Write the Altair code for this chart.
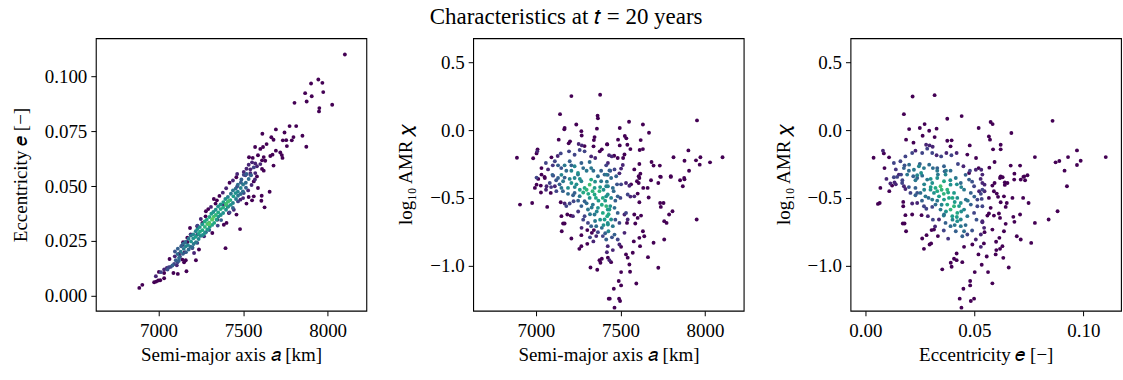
import altair as alt
import pandas as pd

# ---------------- data ----------------
# Panel 1: (semi-major axis a [km], eccentricity e, colour density level 0..1)
P1 = [
    (8102, 0.1099, 0), (7902, 0.0967, 0), (7945, 0.0985, 0), (7969, 0.0970, 0),
    (7867, 0.0923, 0), (7906, 0.0909, 0), (7974, 0.0928, 0), (7876, 0.0885, 0),
    (7804, 0.0879, 0), (7951, 0.0855, 0), (7949, 0.0840, 0), (8027, 0.0870, 0),
    (7775, 0.0773, 0), (7814, 0.0773, 0), (7694, 0.0758, 0), (7745, 0.0744, 0),
    (7614, 0.0738, 0), (7667, 0.0722, 0), (7680, 0.0711, 0), (7735, 0.0708, 0),
    (7755, 0.0709, 0), (7798, 0.0723, 0), (7788, 0.0708, 0), (7851, 0.0729, 0),
    (7874, 0.0679, 0), (7759, 0.0682, 0), (7639, 0.0691, 0), (7618, 0.0678, 0),
    (7602, 0.0669, 0), (7571, 0.0678, 0), (7694, 0.0661, 0), (7720, 0.0653, 0),
    (7729, 0.0641, 0), (7733, 0.0628, 0), (7661, 0.0637, 0), (7674, 0.0643, 0),
    (7622, 0.0632, 0), (7631, 0.0615, 0), (7588, 0.0640, 0), (7535, 0.0631, 0),
    (7557, 0.0628, 0), (7612, 0.0617, 0), (7602, 0.0600, 0.1), (7572, 0.0603, 0.1),
    (7553, 0.0608, 0.1), (7680, 0.0593, 0), (7533, 0.0597, 0.1), (7520, 0.0579, 0.1),
    (7543, 0.0576, 0.1), (7563, 0.0585, 0.2), (7582, 0.0590, 0.1), (7612, 0.0578, 0),
    (7465, 0.0555, 0.1), (7504, 0.0564, 0.1), (7514, 0.0549, 0.2), (7543, 0.0552, 0.1),
    (7572, 0.0559, 0.1), (7622, 0.0570, 0),
    (6886, 0.0036, 0), (6904, 0.0050, 0), (6974, 0.0062, 0), (6986, 0.0065, 0),
    (6998, 0.0070, 0), (7010, 0.0071, 0), (7033, 0.0080, 0), (7002, 0.0109, 0),
    (7033, 0.0120, 0.1), (7049, 0.0127, 0.1), (7061, 0.0130, 0.2), (7072, 0.0132, 0.2),
    (7088, 0.0104, 0), (7114, 0.0100, 0), (7108, 0.0139, 0.1), (7092, 0.0145, 0.2),
    (7112, 0.0153, 0.2), (7065, 0.0168, 0), (7096, 0.0180, 0.1), (7121, 0.0191, 0),
    (7155, 0.0198, 0), (7141, 0.0165, 0), (7161, 0.0162, 0), (7151, 0.0153, 0),
    (7165, 0.0112, 0), (7221, 0.0162, 0), (7145, 0.0244, 0), (7170, 0.0245, 0),
    (7200, 0.0218, 0.1), (7229, 0.0241, 0.2), (7239, 0.0211, 0), (7396, 0.0217, 0),
    (7186, 0.0309, 0), (7229, 0.0317, 0), (7259, 0.0332, 0), (7278, 0.0362, 0),
    (7294, 0.0395, 0), (7327, 0.0441, 0), (7337, 0.0420, 0), (7386, 0.0415, 0.1),
    (7410, 0.0407, 0), (7416, 0.0377, 0), (7386, 0.0324, 0), (7402, 0.0332, 0),
    (7482, 0.0304, 0), (7461, 0.0370, 0), (7520, 0.0420, 0), (7533, 0.0450, 0),
    (7563, 0.0453, 0), (7553, 0.0435, 0), (7588, 0.0491, 0), (7610, 0.0456, 0),
    (7608, 0.0433, 0), (7627, 0.0403, 0), (7657, 0.0474, 0), (7347, 0.0347, 0),
    (7445, 0.0392, 0.1), (7484, 0.0438, 0.1), (7504, 0.0468, 0.2), (7465, 0.0498, 0.2),
    (7563, 0.0521, 0), (7582, 0.0544, 0), (7504, 0.0551, 0.2), (7543, 0.0559, 0.1),
    (7229, 0.0279, 0.1), (7269, 0.0271, 0.1), (7318, 0.0286, 0), (7210, 0.0195, 0.1),
    (7033, 0.0104, 0),
    (7053, 0.0120, 0.25), (7082, 0.0138, 0.3), (7102, 0.0162, 0.3), (7121, 0.0173, 0.35),
    (7014, 0.0108, 0.2), (6984, 0.0089, 0.1),
    (7280, 0.0385, 0), (7310, 0.0405, 0.1), (7345, 0.0435, 0), (7360, 0.0455, 0),
    (7380, 0.0470, 0.1), (7400, 0.0490, 0.1), (7420, 0.0515, 0), (7440, 0.0525, 0.1),
    (7460, 0.0540, 0), (7250, 0.0350, 0.1), (7230, 0.0320, 0.2), (7190, 0.0280, 0.1),
    (7170, 0.0265, 0), (7140, 0.0230, 0.1), (7350, 0.0320, 0.2), (7370, 0.0345, 0.3),
    (7420, 0.0380, 0.2), (7440, 0.0400, 0.3), (7470, 0.0430, 0.2), (7500, 0.0445, 0.1),
    (7530, 0.0480, 0.1), (7550, 0.0505, 0.1), (7570, 0.0530, 0.1), (7490, 0.0530, 0.3),
    (7520, 0.0555, 0.3), (7280, 0.0290, 0.3), (7300, 0.0300, 0.3), (7200, 0.0220, 0.3),
    (7120, 0.0160, 0.3),
    # dense diagonal band
    (7112, 0.0190, 0.35), (7131, 0.0201, 0.4), (7149, 0.0214, 0.4), (7161, 0.0226, 0.45),
    (7174, 0.0231, 0.45), (7192, 0.0248, 0.5), (7206, 0.0262, 0.5), (7220, 0.0269, 0.55),
    (7235, 0.0282, 0.55), (7245, 0.0292, 0.6), (7259, 0.0299, 0.6), (7274, 0.0314, 0.65),
    (7288, 0.0327, 0.7), (7300, 0.0333, 0.7), (7316, 0.0347, 0.72), (7327, 0.0361, 0.7),
    (7339, 0.0368, 0.65), (7353, 0.0380, 0.6), (7367, 0.0395, 0.6), (7382, 0.0402, 0.62),
    (7398, 0.0415, 0.68), (7410, 0.0429, 0.65), (7425, 0.0436, 0.6), (7443, 0.0453, 0.55),
    (7455, 0.0468, 0.5), (7469, 0.0474, 0.45), (7486, 0.0491, 0.45), (7500, 0.0507, 0.4),
    (7516, 0.0515, 0.35), (7533, 0.0532, 0.35), (7547, 0.0549, 0.3),
    (7127, 0.0178, 0.25), (7144, 0.0191, 0.3), (7162, 0.0199, 0.3), (7178, 0.0211, 0.35),
    (7189, 0.0224, 0.35), (7207, 0.0236, 0.4), (7221, 0.0244, 0.4), (7237, 0.0259, 0.45),
    (7248, 0.0273, 0.45), (7262, 0.0277, 0.5), (7274, 0.0286, 0.5), (7289, 0.0302, 0.55),
    (7303, 0.0315, 0.55), (7317, 0.0323, 0.6), (7329, 0.0332, 0.6), (7344, 0.0347, 0.55),
    (7354, 0.0361, 0.5), (7368, 0.0368, 0.5), (7382, 0.0377, 0.5), (7399, 0.0392, 0.5),
    (7411, 0.0406, 0.55), (7427, 0.0414, 0.5), (7440, 0.0423, 0.45), (7458, 0.0441, 0.4),
    (7470, 0.0456, 0.4), (7486, 0.0464, 0.35), (7499, 0.0476, 0.35), (7517, 0.0492, 0.3),
    (7097, 0.0202, 0.25), (7114, 0.0215, 0.3), (7134, 0.0226, 0.3), (7146, 0.0238, 0.35),
    (7159, 0.0245, 0.35), (7177, 0.0260, 0.4), (7191, 0.0274, 0.4), (7205, 0.0280, 0.45),
    (7220, 0.0294, 0.45), (7230, 0.0304, 0.5), (7244, 0.0313, 0.5), (7259, 0.0326, 0.55),
    (7273, 0.0339, 0.6), (7285, 0.0347, 0.6), (7301, 0.0359, 0.6), (7312, 0.0374, 0.55),
    (7324, 0.0382, 0.5), (7338, 0.0392, 0.5), (7352, 0.0407, 0.5), (7367, 0.0416, 0.5),
    (7383, 0.0427, 0.55), (7395, 0.0441, 0.5), (7410, 0.0450, 0.45), (7428, 0.0465, 0.4),
    (7440, 0.0480, 0.4), (7456, 0.0488, 0.35), (7469, 0.0506, 0.35), (7487, 0.0516, 0.3),
    (7300, 0.0327, 0.75), (7320, 0.0350, 0.75), (7400, 0.0420, 0.7), (7415, 0.0432, 0.7),
]

# Panel 2: (semi-major axis a [km], log10 AMR chi, colour density level)
P2 = [
    (7210, 0.250, 0), (7380, 0.260, 0), (7143, 0.117, 0), (7365, 0.105, 0),
    (7367, 0.086, 0), (7239, 0.041, 0), (7170, 0.015, 0), (7168, 0.005, 0),
    (7361, 0.010, 0), (7269, -0.008, 0), (7271, -0.040, 0), (7347, -0.052, 0),
    (7343, -0.074, 0), (7135, -0.071, 0), (7202, -0.083, 0), (7194, -0.098, 0),
    (7253, -0.103, 0.1), (7272, -0.113, 0.1), (7288, -0.118, 0), (7341, -0.120, 0),
    (7421, -0.105, 0), (7008, -0.157, 0.1), (7010, -0.142, 0), (7004, -0.172, 0),
    (6888, -0.204, 0), (6984, -0.208, 0), (7092, -0.201, 0), (7147, -0.172, 0.2),
    (7129, -0.191, 0.1), (7196, -0.157, 0.2), (7229, -0.182, 0.2), (7259, -0.147, 0.2),
    (7288, -0.157, 0.2), (7378, -0.157, 0), (7390, -0.142, 0), (7327, -0.194, 0.1),
    (7351, -0.206, 0.1), (7059, -0.243, 0.2), (7112, -0.230, 0.2), (7131, -0.260, 0.3),
    (7033, -0.280, 0), (7170, -0.260, 0.4), (7200, -0.230, 0.3), (7229, -0.267, 0.45),
    (7269, -0.243, 0.3), (7318, -0.235, 0.35), (7327, -0.280, 0.4), (7210, -0.300, 0.45),
    (7249, -0.316, 0.5), (7151, -0.330, 0.45), (7098, -0.330, 0.3), (7051, -0.345, 0),
    (7386, -0.300, 0.3), (7416, -0.260, 0.2), (7425, -0.330, 0.3), (7072, -0.290, 0.1),
    (7004, -0.350, 0.2),
    (7953, 0.071, 0), (7551, 0.061, 0), (7633, 0.041, 0), (7496, 0.015, 0),
    (7669, -0.020, 0), (7526, -0.044, 0), (7535, -0.061, 0), (7486, -0.071, 0),
    (7620, -0.074, 0), (7422, -0.106, 0), (7496, -0.113, 0), (7541, -0.108, 0),
    (7559, -0.140, 0), (7614, -0.147, 0), (7633, -0.140, 0), (7902, -0.150, 0),
    (7433, -0.186, 0.1), (7449, -0.194, 0.1), (7463, -0.189, 0), (7484, -0.206, 0),
    (7516, -0.206, 0), (7524, -0.180, 0), (7814, -0.200, 0), (7973, -0.200, 0),
    (7947, -0.223, 0), (7879, -0.226, 0), (8104, -0.200, 0), (7684, -0.235, 0),
    (7696, -0.262, 0), (7733, -0.262, 0), (7612, -0.250, 0), (8030, -0.238, 0),
    (7969, -0.255, 0), (7426, -0.243, 0.1), (7514, -0.257, 0.1), (7504, -0.284, 0.1),
    (7465, -0.290, 0.2), (7582, -0.290, 0), (7435, -0.297, 0.3), (7494, -0.319, 0.1),
    (7618, -0.321, 0), (7608, -0.340, 0), (7906, -0.300, 0), (7735, -0.343, 0),
    (7798, -0.340, 0), (7877, -0.353, 0),
    (7612, -0.353, 0), (7598, -0.377, 0), (7681, -0.370, 0), (7739, -0.345, 0),
    (7798, -0.345, 0), (7853, -0.370, 0), (7879, -0.363, 0), (7869, -0.414, 0),
    (7724, -0.390, 0), (7661, -0.426, 0), (7635, -0.426, 0), (7608, -0.390, 0),
    (7563, -0.400, 0), (7533, -0.390, 0.1), (7553, -0.410, 0.1), (7504, -0.400, 0.2),
    (7602, -0.468, 0), (7582, -0.488, 0.1), (7559, -0.490, 0.1), (7543, -0.475, 0.2),
    (7667, -0.497, 0), (7612, -0.532, 0), (7735, -0.537, 0), (7755, -0.537, 0),
    (7739, -0.566, 0), (7808, -0.598, 0), (7788, -0.622, 0), (7533, -0.610, 0.2),
    (7524, -0.622, 0.1), (7582, -0.622, 0), (7622, -0.630, 0), (7602, -0.647, 0),
    (7543, -0.659, 0.1), (7539, -0.684, 0), (7588, -0.688, 0), (7759, -0.671, 0),
    (7773, -0.684, 0), (7951, -0.659, 0), (7633, -0.745, 0), (7641, -0.782, 0),
    (7612, -0.794, 0), (7524, -0.757, 0.1), (7696, -0.830, 0), (7759, -0.806, 0),
    (7579, -0.820, 0), (7484, -0.806, 0.2), (7494, -0.843, 0.1), (7504, -0.860, 0),
    (7616, -0.855, 0), (7455, -0.884, 0.1), (7426, -0.940, 0), (7435, -0.958, 0.1),
    (7445, -0.973, 0), (7533, -0.916, 0), (7543, -0.940, 0), (7573, -0.904, 0),
    (7663, -0.936, 0), (7553, -0.990, 0), (7724, -1.014, 0), (7504, -1.046, 0),
    (7557, -1.044, 0), (7490, -1.112, 0), (7504, -1.144, 0), (7594, -1.130, 0),
    (7461, -1.169, 0), (7437, -1.242, 0), (7492, -1.242, 0), (7498, -1.259, 0),
    (7465, -1.308, 0),
    (7416, -0.328, 0.4), (7445, -0.353, 0.35), (7475, -0.340, 0.3), (7426, -0.414, 0.45),
    (7455, -0.426, 0.35), (7416, -0.488, 0.5), (7445, -0.500, 0.45), (7484, -0.488, 0.3),
    (7416, -0.560, 0.65), (7435, -0.585, 0.55), (7465, -0.573, 0.35), (7422, -0.634, 0.6),
    (7445, -0.659, 0.5), (7426, -0.696, 0.5), (7455, -0.708, 0.4), (7429, -0.745, 0.45),
    (7465, -0.770, 0.3), (7484, -0.610, 0.3), (7494, -0.684, 0.2),
    (6906, -0.549, 0), (6978, -0.537, 0), (7067, -0.566, 0), (7147, -0.532, 0),
    (7170, -0.541, 0.1), (7200, -0.541, 0.2), (7223, -0.524, 0.2), (7151, -0.634, 0),
    (7186, -0.622, 0), (7206, -0.630, 0), (7161, -0.688, 0), (7170, -0.688, 0),
    (7153, -0.745, 0), (7210, -0.799, 0), (7269, -0.774, 0), (7304, -0.737, 0),
    (7331, -0.757, 0), (7343, -0.737, 0), (7269, -0.855, 0), (7257, -0.875, 0),
    (7304, -0.838, 0), (7367, -0.752, 0.2), (7357, -0.781, 0.1), (7376, -0.958, 0),
    (7390, -0.948, 0), (7382, -0.977, 0), (7323, -1.012, 0), (7363, -1.029, 0),
    (7431, -1.242, 0), (7425, -0.855, 0.1), (7396, -0.781, 0.2), (7416, -0.806, 0.3),
    (7327, -0.708, 0.3), (7308, -0.684, 0.2), (7357, -0.708, 0.35),
    (7014, -0.360, 0), (7053, -0.353, 0), (6994, -0.426, 0), (7004, -0.402, 0),
    (7029, -0.409, 0), (7063, -0.414, 0.1), (7112, -0.414, 0.1), (7082, -0.390, 0.2),
    (7102, -0.336, 0.2), (7131, -0.353, 0.3), (7161, -0.377, 0.4), (7151, -0.426, 0.4),
    (7190, -0.426, 0.5), (7210, -0.390, 0.5), (7229, -0.353, 0.45), (7249, -0.328, 0.4),
    (7269, -0.377, 0.45), (7288, -0.426, 0.6), (7318, -0.402, 0.7), (7327, -0.365, 0.6),
    (7347, -0.426, 0.55), (7367, -0.340, 0.35), (7386, -0.377, 0.4), (7406, -0.328, 0.3),
    (7416, -0.414, 0.45), (7229, -0.463, 0.3), (7259, -0.487, 0.4), (7288, -0.524, 0.3),
    (7318, -0.500, 0.5), (7347, -0.475, 0.6), (7376, -0.450, 0.65), (7396, -0.500, 0.6),
    (7425, -0.475, 0.5), (7269, -0.560, 0.3), (7308, -0.585, 0.4), (7337, -0.549, 0.4),
    (7367, -0.573, 0.5), (7396, -0.610, 0.6), (7425, -0.585, 0.55), (7347, -0.622, 0.4),
    (7406, -0.659, 0.55), (7425, -0.684, 0.5), (7219, -0.634, 0.1), (7288, -0.634, 0.2),
    (7180, -0.560, 0.2), (7033, -0.328, 0), (7121, -0.450, 0.2), (7088, -0.463, 0),
    (7180, -0.300, 0.35), (7200, -0.360, 0.45), (7240, -0.400, 0.5), (7260, -0.440, 0.55),
    (7280, -0.460, 0.6), (7300, -0.440, 0.65), (7310, -0.470, 0.6), (7335, -0.450, 0.65),
    (7355, -0.500, 0.6), (7370, -0.520, 0.55), (7390, -0.550, 0.6), (7410, -0.520, 0.55),
    (7430, -0.620, 0.6), (7440, -0.560, 0.5), (7400, -0.700, 0.5), (7380, -0.660, 0.5),
    (7360, -0.600, 0.45), (7330, -0.570, 0.4), (7300, -0.540, 0.35), (7250, -0.520, 0.3),
    (7220, -0.480, 0.3), (7190, -0.470, 0.35), (7160, -0.450, 0.3), (7140, -0.400, 0.3),
    (7120, -0.370, 0.25), (7090, -0.420, 0.15), (7060, -0.440, 0.1), (7030, -0.460, 0),
    (7250, -0.600, 0.15), (7280, -0.660, 0.2), (7320, -0.790, 0.2), (7340, -0.820, 0.1),
    (7390, -0.720, 0.35), (7410, -0.760, 0.3), (7450, -0.790, 0.25), (7470, -0.660, 0.25),
    (7460, -0.450, 0.35), (7480, -0.400, 0.25), (7500, -0.500, 0.2), (7470, -0.520, 0.3),
    (7300, -0.300, 0.4), (7340, -0.300, 0.35), (7280, -0.280, 0.35), (7350, -0.380, 0.5),
    (7400, -0.440, 0.5), (7380, -0.420, 0.55), (7230, -0.420, 0.45), (7260, -0.360, 0.5),
    (7170, -0.350, 0.3), (7210, -0.260, 0.3), (7150, -0.280, 0.25), (7100, -0.260, 0.15),
    (7420, -0.380, 0.4), (7440, -0.300, 0.25), (7320, -0.620, 0.4), (7350, -0.670, 0.4),
    (7270, -0.720, 0.1), (7420, -0.900, 0.1),
]

# Panel 3: (eccentricity e, log10 AMR chi, colour density level)
P3 = [
    (0.0217, 0.247, 0), (0.0318, 0.257, 0), (0.0177, 0.117, 0), (0.0376, 0.083, 0),
    (0.0442, 0.103, 0), (0.0520, 0.015, 0), (0.0201, 0.007, 0), (0.0250, 0.015, 0),
    (0.0272, 0.044, 0), (0.0293, -0.005, 0), (0.0327, 0.010, 0), (0.0263, -0.042, 0),
    (0.0318, -0.052, 0), (0.0376, -0.079, 0), (0.0396, -0.076, 0), (0.0187, -0.071, 0),
    (0.0221, -0.093, 0), (0.0279, -0.108, 0.1), (0.0295, -0.113, 0.1), (0.0309, -0.123, 0.1),
    (0.0391, -0.120, 0), (0.0479, -0.113, 0), (0.0081, -0.152, 0.1), (0.0085, -0.172, 0),
    (0.0038, -0.204, 0), (0.0109, -0.201, 0), (0.0131, -0.243, 0.2), (0.0161, -0.230, 0.2),
    (0.0184, -0.194, 0.2), (0.0215, -0.169, 0.2), (0.0230, -0.152, 0.1), (0.0261, -0.169, 0.2),
    (0.0284, -0.137, 0.2), (0.0307, -0.169, 0.2), (0.0327, -0.186, 0.1), (0.0348, -0.194, 0.2),
    (0.0372, -0.169, 0.1), (0.0395, -0.186, 0.2), (0.0419, -0.169, 0.1), (0.0468, -0.181, 0),
    (0.0508, -0.206, 0), (0.0425, -0.250, 0.2), (0.0450, -0.267, 0.1), (0.0520, -0.280, 0),
    (0.0088, -0.280, 0), (0.0177, -0.280, 0.3), (0.0201, -0.255, 0.35), (0.0223, -0.292, 0.4),
    (0.0246, -0.267, 0.45), (0.0269, -0.280, 0.4), (0.0293, -0.255, 0.35), (0.0330, -0.280, 0.3),
    (0.0361, -0.267, 0.3), (0.0391, -0.299, 0.35), (0.0154, -0.328, 0.1), (0.0192, -0.328, 0.4),
    (0.0238, -0.333, 0.45), (0.0256, -0.316, 0.5), (0.0333, -0.328, 0.4), (0.0364, -0.304, 0.3),
    (0.0476, -0.316, 0), (0.0507, -0.292, 0.1), (0.0537, -0.328, 0.1), (0.0131, -0.348, 0.2),
    (0.0859, 0.068, 0), (0.0575, 0.059, 0), (0.0584, 0.044, 0), (0.0670, -0.022, 0),
    (0.0567, -0.047, 0), (0.0572, -0.071, 0), (0.0621, -0.108, 0), (0.0621, -0.142, 0),
    (0.0586, -0.142, 0), (0.0593, -0.235, 0), (0.0569, -0.277, 0), (0.0778, -0.199, 0),
    (0.0873, -0.238, 0), (0.0890, -0.228, 0), (0.0930, -0.199, 0), (0.0971, -0.150, 0),
    (0.0988, -0.226, 0), (0.0971, -0.257, 0), (0.0914, -0.299, 0), (0.1103, -0.199, 0),
    (0.0667, -0.262, 0), (0.0710, -0.262, 0), (0.0684, -0.321, 0), (0.0729, -0.341, 0),
    (0.0744, -0.333, 0), (0.0621, -0.341, 0), (0.0630, -0.348, 0), (0.0532, -0.292, 0.1),
    (0.0618, -0.353, 0), (0.0713, -0.365, 0), (0.0725, -0.345, 0), (0.0733, -0.370, 0),
    (0.0683, -0.365, 0), (0.0925, -0.414, 0), (0.0529, -0.360, 0.1), (0.0547, -0.402, 0.1),
    (0.0583, -0.409, 0), (0.0593, -0.390, 0), (0.0640, -0.385, 0), (0.0652, -0.390, 0),
    (0.0640, -0.404, 0), (0.0537, -0.439, 0.2), (0.0547, -0.451, 0.1), (0.0590, -0.451, 0),
    (0.0603, -0.468, 0), (0.0609, -0.492, 0), (0.0567, -0.500, 0), (0.0636, -0.488, 0),
    (0.0675, -0.500, 0), (0.0724, -0.500, 0), (0.0621, -0.532, 0), (0.0649, -0.537, 0),
    (0.0644, -0.566, 0), (0.0749, -0.537, 0), (0.0575, -0.573, 0), (0.0534, -0.507, 0.2),
    (0.0537, -0.561, 0.2), (0.0882, -0.598, 0), (0.0560, -0.630, 0), (0.0567, -0.615, 0),
    (0.0590, -0.630, 0), (0.0613, -0.615, 0), (0.0618, -0.647, 0), (0.0710, -0.622, 0),
    (0.0679, -0.639, 0), (0.0684, -0.676, 0), (0.0644, -0.691, 0), (0.0778, -0.684, 0),
    (0.0841, -0.659, 0), (0.0537, -0.679, 0.1), (0.0547, -0.752, 0), (0.0583, -0.733, 0),
    (0.0636, -0.745, 0), (0.0615, -0.794, 0), (0.0695, -0.782, 0), (0.0713, -0.806, 0),
    (0.0761, -0.831, 0), (0.0544, -0.835, 0), (0.0600, -0.823, 0), (0.0629, -0.855, 0),
    (0.0618, -0.875, 0), (0.0601, -0.884, 0), (0.0598, -0.916, 0), (0.0557, -0.931, 0),
    (0.0633, -0.941, 0), (0.0534, -0.992, 0), (0.0658, -1.012, 0), (0.0563, -1.046, 0),
    (0.0583, -1.129, 0),
    (0.0058, -0.544, 0), (0.0066, -0.537, 0), (0.0069, -0.426, 0), (0.0097, -0.360, 0.1),
    (0.0115, -0.394, 0.1), (0.0123, -0.409, 0), (0.0134, -0.385, 0.1), (0.0169, -0.390, 0.2),
    (0.0177, -0.414, 0.1), (0.0184, -0.434, 0.1), (0.0146, -0.345, 0.2), (0.0164, -0.328, 0.2),
    (0.0174, -0.529, 0), (0.0174, -0.561, 0), (0.0215, -0.541, 0.1), (0.0238, -0.537, 0.1),
    (0.0184, -0.627, 0), (0.0215, -0.622, 0), (0.0172, -0.688, 0), (0.0180, -0.688, 0),
    (0.0187, -0.745, 0), (0.0258, -0.627, 0), (0.0287, -0.634, 0.1), (0.0307, -0.566, 0.2),
    (0.0261, -0.799, 0), (0.0281, -0.774, 0), (0.0304, -0.737, 0), (0.0315, -0.733, 0),
    (0.0333, -0.781, 0), (0.0295, -0.843, 0), (0.0302, -0.835, 0), (0.0269, -0.875, 0),
    (0.0338, -0.659, 0.1), (0.0353, -1.026, 0), (0.0392, -0.977, 0), (0.0396, -1.007, 0),
    (0.0407, -0.948, 0), (0.0419, -0.958, 0), (0.0419, -0.909, 0), (0.0445, -0.973, 0),
    (0.0502, -1.046, 0), (0.0481, -1.112, 0), (0.0481, -1.144, 0), (0.0450, -1.169, 0),
    (0.0499, -1.242, 0), (0.0484, -1.259, 0), (0.0433, -1.242, 0), (0.0441, -1.308, 0),
    (0.0519, -0.916, 0), (0.0453, -0.860, 0), (0.0491, -0.843, 0), (0.0530, -0.769, 0.1),
    (0.0468, -0.769, 0.2), (0.0445, -0.782, 0.3), (0.0507, -0.806, 0.1), (0.0537, -0.671, 0.1),
    (0.0514, -0.561, 0.2), (0.0499, -0.610, 0.2), (0.0522, -0.451, 0.1), (0.0484, -0.463, 0.3),
    (0.0537, -0.390, 0.1), (0.0499, -0.414, 0.2), (0.0476, -0.365, 0.3), (0.0514, -0.512, 0.2),
    (0.0545, -0.720, 0.1),
    (0.0238, -0.353, 0.3), (0.0261, -0.336, 0.35), (0.0284, -0.365, 0.4), (0.0307, -0.390, 0.5),
    (0.0330, -0.353, 0.5), (0.0345, -0.414, 0.7), (0.0361, -0.377, 0.6), (0.0376, -0.439, 0.65),
    (0.0391, -0.402, 0.5), (0.0407, -0.463, 0.55), (0.0422, -0.500, 0.5), (0.0438, -0.537, 0.5),
    (0.0453, -0.586, 0.45), (0.0468, -0.634, 0.4), (0.0438, -0.659, 0.45), (0.0391, -0.586, 0.65),
    (0.0376, -0.549, 0.6), (0.0407, -0.561, 0.65), (0.0422, -0.610, 0.6), (0.0399, -0.634, 0.55),
    (0.0438, -0.708, 0.4), (0.0453, -0.745, 0.35), (0.0391, -0.708, 0.35), (0.0368, -0.684, 0.3),
    (0.0345, -0.586, 0.4), (0.0322, -0.549, 0.35), (0.0307, -0.512, 0.4), (0.0276, -0.488, 0.4),
    (0.0253, -0.463, 0.35), (0.0230, -0.426, 0.3), (0.0207, -0.463, 0.2), (0.0315, -0.463, 0.5),
    (0.0338, -0.488, 0.55), (0.0361, -0.512, 0.55), (0.0384, -0.500, 0.6), (0.0322, -0.426, 0.6),
    (0.0299, -0.439, 0.5), (0.0368, -0.328, 0.45), (0.0415, -0.353, 0.4), (0.0438, -0.390, 0.35),
    (0.0453, -0.439, 0.4), (0.0461, -0.512, 0.35), (0.0484, -0.549, 0.3), (0.0422, -0.671, 0.5),
    (0.0415, -0.745, 0.3), (0.0361, -0.622, 0.35), (0.0269, -0.561, 0.2), (0.0238, -0.463, 0.25),
    (0.0200, -0.300, 0.35), (0.0230, -0.370, 0.4), (0.0270, -0.400, 0.45), (0.0300, -0.420, 0.55),
    (0.0330, -0.450, 0.6), (0.0350, -0.440, 0.65), (0.0360, -0.470, 0.65), (0.0380, -0.460, 0.6),
    (0.0400, -0.500, 0.6), (0.0410, -0.530, 0.55), (0.0430, -0.560, 0.55), (0.0440, -0.600, 0.5),
    (0.0420, -0.640, 0.55), (0.0400, -0.660, 0.45), (0.0370, -0.600, 0.5), (0.0350, -0.550, 0.45),
    (0.0330, -0.520, 0.4), (0.0290, -0.500, 0.35), (0.0260, -0.520, 0.3), (0.0230, -0.480, 0.3),
    (0.0200, -0.420, 0.25), (0.0170, -0.370, 0.2), (0.0140, -0.400, 0.1), (0.0110, -0.450, 0),
    (0.0280, -0.580, 0.2), (0.0310, -0.660, 0.2), (0.0360, -0.740, 0.2), (0.0380, -0.800, 0.15),
    (0.0460, -0.700, 0.35), (0.0490, -0.740, 0.25), (0.0510, -0.660, 0.25), (0.0470, -0.520, 0.4),
    (0.0500, -0.490, 0.3), (0.0530, -0.470, 0.2), (0.0490, -0.380, 0.25), (0.0460, -0.330, 0.3),
    (0.0330, -0.300, 0.4), (0.0370, -0.300, 0.4), (0.0310, -0.280, 0.35), (0.0390, -0.370, 0.5),
    (0.0440, -0.420, 0.45), (0.0420, -0.400, 0.5), (0.0270, -0.440, 0.45), (0.0300, -0.360, 0.5),
    (0.0220, -0.340, 0.3), (0.0250, -0.250, 0.3), (0.0180, -0.260, 0.25), (0.0140, -0.290, 0.15),
    (0.0480, -0.300, 0.2), (0.0360, -0.630, 0.4), (0.0410, -0.700, 0.4), (0.0320, -0.710, 0.1),
    (0.0530, -0.860, 0.1),
]

X_TICKS_A = [7000, 7500, 8000]
Y_TICKS_E = [0.000, 0.025, 0.050, 0.075, 0.100]
Y_TICKS_CHI = [0.5, 0.0, -0.5, -1.0]
X_TICKS_E = [0.00, 0.05, 0.10]

A_DOMAIN = [6629, 8229]
E_DOMAIN = [-0.0068, 0.1173]
CHI_DOMAIN = [-1.331, 0.676]

FONT = "Liberation Serif"
TITLE_TEXT = "Characteristics at 𝑡 = 20 years"

df1 = pd.DataFrame(P1, columns=["a", "e", "d"])
df2 = pd.DataFrame(P2, columns=["a", "chi", "d"])
df3 = pd.DataFrame(P3, columns=["e", "chi", "d"])

W, H = 271, 273


def panel(df, xf, yf, xdom, ydom, xticks, yticks, xfmt, yfmt, xtitle, ytitle):
    return alt.Chart(df).mark_circle(size=15, opacity=1, clip=True).encode(
        x=alt.X(f"{xf}:Q", scale=alt.Scale(domain=xdom, nice=False, zero=False),
                axis=alt.Axis(values=xticks, format=xfmt, title=xtitle)),
        y=alt.Y(f"{yf}:Q", scale=alt.Scale(domain=ydom, nice=False, zero=False),
                axis=alt.Axis(values=yticks, format=yfmt, title=ytitle)),
        color=alt.Color("d:Q", scale=alt.Scale(scheme="viridis", domain=[0, 1]), legend=None),
        order=alt.Order("d:Q", sort="ascending"),
    ).properties(width=W, height=H)


p1 = panel(df1, "a", "e", A_DOMAIN, E_DOMAIN, X_TICKS_A, Y_TICKS_E, "d", ".3f",
           "Semi-major axis 𝑎 [km]", "Eccentricity 𝑒 [−]")
p2 = panel(df2, "a", "chi", A_DOMAIN, CHI_DOMAIN, X_TICKS_A, Y_TICKS_CHI, "d", ".1f",
           "Semi-major axis 𝑎 [km]", "log₁₀ AMR 𝜒")
p3 = panel(df3, "e", "chi", E_DOMAIN, CHI_DOMAIN, X_TICKS_E, Y_TICKS_CHI, ".2f", ".1f",
           "Eccentricity 𝑒 [−]", "log₁₀ AMR 𝜒")

chart = alt.hconcat(p1, p2, p3, spacing=107, bounds="flush").properties(
    title=alt.TitleParams(TITLE_TEXT, anchor="middle", font=FONT, fontSize=23,
                          fontWeight="normal", color="black", offset=9),
    padding={"left": 10, "right": 1, "top": 5, "bottom": 2},
).configure_view(
    stroke="black", strokeWidth=1.1
).configure_axis(
    grid=False, domain=False, ticks=True, tickColor="black", tickSize=5, tickWidth=1,
    labelFont=FONT, labelFontSize=19, labelColor="black",
    titleFont=FONT, titleFontSize=19, titleColor="black", titleFontWeight="normal",
).configure_axisX(
    labelPadding=6, titlePadding=5
).configure_axisY(
    labelPadding=4, titlePadding=14
)

chart.save("out.html", embed_options={"renderer": "svg", "actions": False})
